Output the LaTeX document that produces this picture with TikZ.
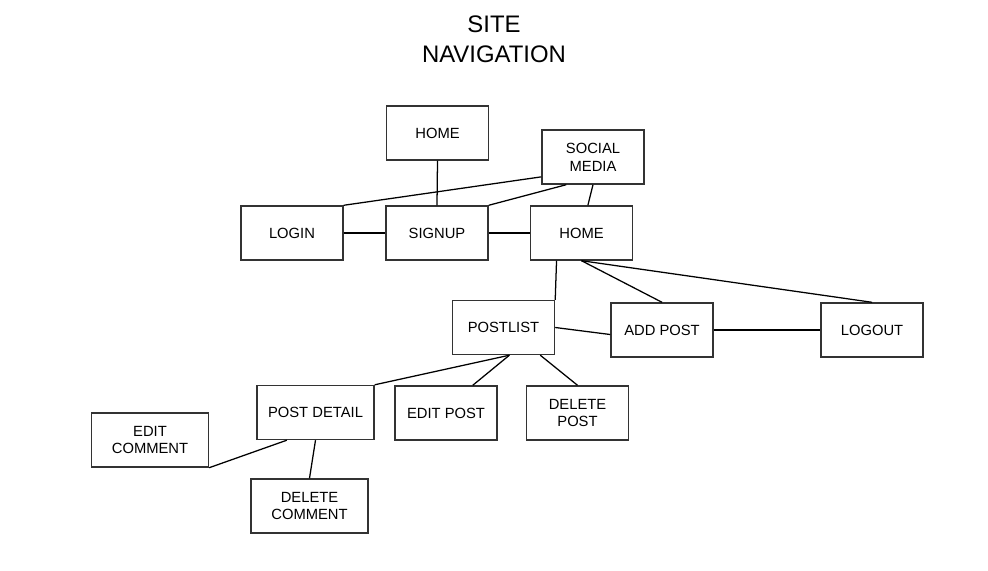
\documentclass[tikz,border=0pt]{standalone}
\usepackage{fontspec}
\setmainfont{Liberation Sans}
\usetikzlibrary{positioning}

\begin{document}
\begin{tikzpicture}[x=0.025cm, y=-0.025cm,
		box/.style={draw=black!80, line width=1pt, minimum width=2.55cm, minimum height=1.35cm, inner sep=0pt, align=center, font=\fontsize{10.5}{12.7}\selectfont},
		widebox/.style={box, minimum width=2.925cm},
		link/.style={line width=0.9pt}]
				\useasboundingbox (0,0) rectangle (988,571);
				% Title
				\node[align=center, font=\fontsize{17}{21.3}\selectfont] (title) at (494,39) {SITE\\NAVIGATION};
				% Top rows
				\node[box] (home) at (437.5,133) {HOME};
				\node[box] (social) at (593,157) {SOCIAL\\MEDIA};
				\node[box] (login) at (292,233) {LOGIN};
				\node[box] (signup) at (437,233) {SIGNUP};
				\node[box] (home2) at (581.5,233) {HOME};
				% Posts
				\node[box] (postlist) at (503.5,327.5) {POSTLIST};
				\node[box] (addpost) at (662,330) {ADD POST};
				\node[box] (logout) at (872,330) {LOGOUT};
				\node[widebox] (postdetail) at (315.5,412.5) {POST DETAIL};
				\node[box] (editpost) at (446,413) {EDIT POST};
				\node[box] (deletepost) at (577.5,413) {DELETE\\POST};
				% Comments
				\node[widebox] (editcomment) at (150,440) {EDIT\\COMMENT};
				\node[widebox] (deletecomment) at (309.5,506) {DELETE\\COMMENT};
				% Links
				\draw[link] (home.south) -- (signup.north);
				\draw[link] (social.201) -- (login.north east);
				\draw[link] (social.226) -- (signup.north east);
				\draw[link] (social.south) -- (home2.77);
				\draw[link] (login.east) -- (signup.west);
				\draw[link] (signup.east) -- (home2.west);
				\draw[link] (home2.228) -- (postlist.north east);
				\draw[link] (home2.south) -- (addpost.north);
				\draw[link] (home2.south) -- (logout.north);
				\draw[link] (postlist.east) -- (addpost.185);
				\draw[link] (addpost.east) -- (logout.west);
				\draw[link] (postlist.282) -- (postdetail.north east);
				\draw[link] (postlist.282) -- (editpost.46);
				\draw[link] (postlist.323) -- (deletepost.north);
				\draw[link] (postdetail.224) -- (editcomment.south east);
				\draw[link] (postdetail.south) -- (deletecomment.north);
			\end{tikzpicture}
\end{document}
